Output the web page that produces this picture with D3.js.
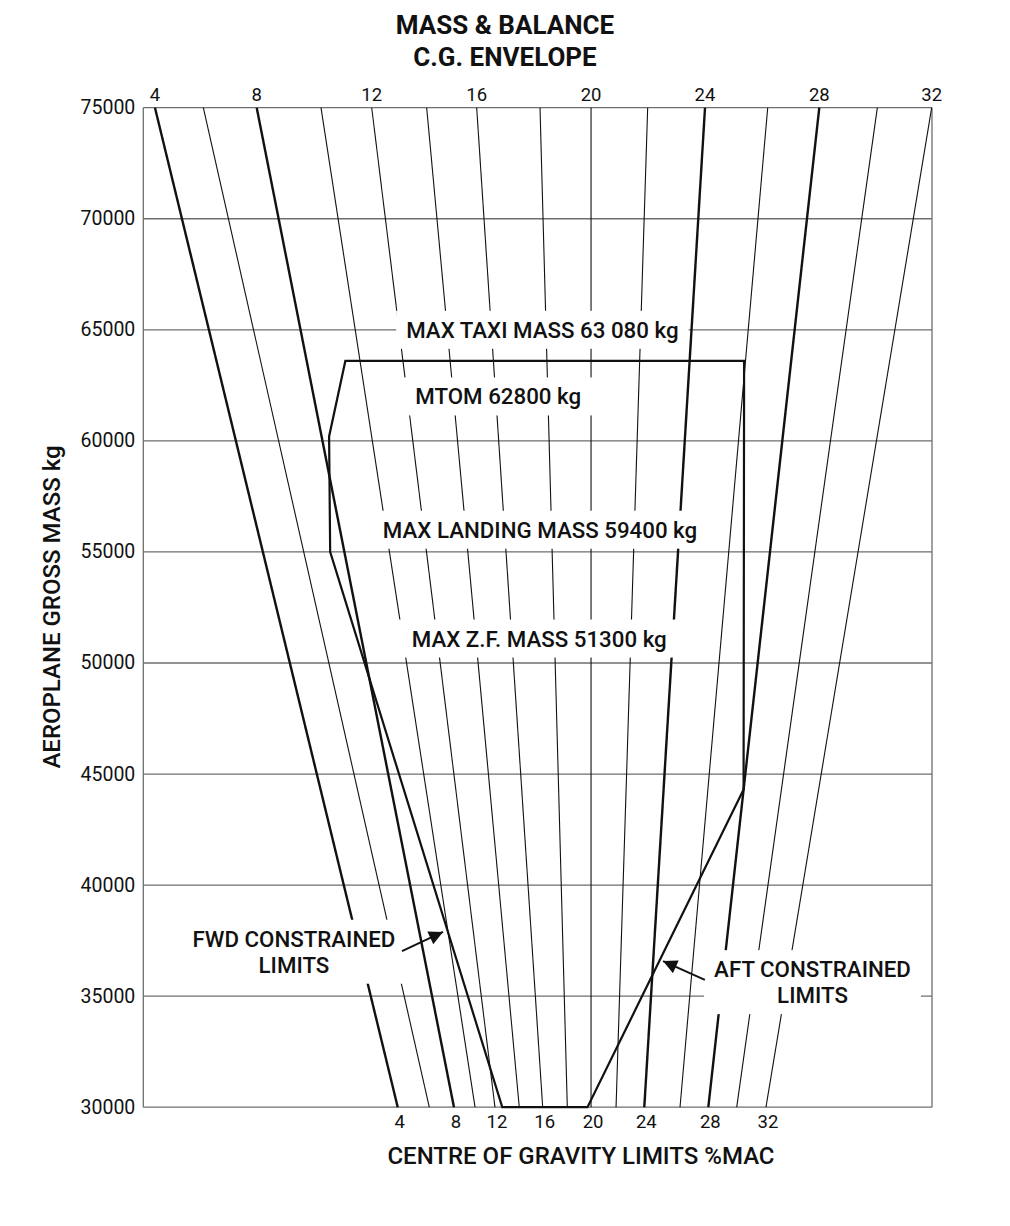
<!DOCTYPE html>
<html><head><meta charset="utf-8">
<script src="https://cdn.jsdelivr.net/npm/d3@7"></script>
<style>
html,body{margin:0;padding:0;background:#fff;}
svg{display:block;font-family:Roboto,"Liberation Sans",Arial,sans-serif;}
</style></head>
<body><svg id="chart" width="1010" height="1226"></svg>
<script>
// ---------------- DATA ----------------
const massTicks = [30000,35000,40000,45000,50000,55000,60000,65000,70000,75000];
const cgValues = [4,6,8,10,12,14,16,18,20,22,24,26,28,30,32];
// horizontal index position (0..100 across plot) of each %MAC line at 75000 kg and at 30000 kg
const lineIndexAt75000 = [1.48,7.61,14.38,22.53,28.96,35.93,42.27,50.30,56.77,63.95,71.22,79.17,85.71,93.07,99.96];
const lineIndexAt30000 = [32.26,36.26,39.39,42.06,44.59,47.67,50.64,53.76,56.77,59.94,63.52,68.05,71.64,75.24,78.95];
const boldCG = [4,8,24,28];
const cgTickLabels = [4,8,12,16,20,24,28,32];
// envelope vertices
const envelopeCG   = [12.6, 7.3, 8.3, 9.45, 25.95, 28.0, 19.7];
const envelopeMass = [30000, 55000, 60200, 63600, 63600, 44300, 30000];
// mass-limit annotations
const limitLabels = ["MAX TAXI MASS 63 080 kg","MTOM 62800 kg","MAX LANDING MASS 59400 kg","MAX Z.F. MASS 51300 kg"];
const limitLabelMass = [65000, 62000, 56000, 51100];
const limitLabelIndex = [50.6, 45.0, 50.3, 50.2];
const limitLabelPad = [10, 18, 10, 16];
// constrained-limit annotations
const constrainedLabels = [["FWD CONSTRAINED","LIMITS"],["AFT CONSTRAINED","LIMITS"]];
const constrainedIndex = [19.1, 84.85];
const constrainedMass = [37000, 35630];
const arrowTailIndex = [32.8, 71.2];
const arrowTailMass = [37030, 35730];
const arrowTipIndex = [38.0, 65.9];
const arrowTipMass = [37890, 36580];

// ---------------- LAYOUT ----------------
const svg = d3.select("#chart");
const L = 143.3, R = 932, T = 107.7, B = 1107.2;
const x = d3.scaleLinear().domain([0,100]).range([L,R]);
const y = d3.scaleLinear().domain([30000,75000]).range([B,T]);
const ink = "#111", gridCol = "#6e6e6e";

svg.append("rect").attr("width",1010).attr("height",1226).attr("fill","#fff");

function lineIndexAt(i, mass){
  const t = (75000 - mass)/45000;
  return lineIndexAt75000[i] + (lineIndexAt30000[i]-lineIndexAt75000[i])*t;
}
function cgToIndex(cg, mass){
  let i = d3.bisectRight(cgValues, cg) - 1;
  i = Math.max(0, Math.min(cgValues.length-2, i));
  const f = (cg - cgValues[i])/(cgValues[i+1]-cgValues[i]);
  const a = lineIndexAt(i, mass), b = lineIndexAt(i+1, mass);
  return a + (b-a)*f;
}

// gridlines
svg.append("g").selectAll("line").data(massTicks).join("line")
  .attr("x1",L).attr("x2",R).attr("y1",d=>y(d)).attr("y2",d=>y(d))
  .attr("stroke",gridCol).attr("stroke-width",1.3);
// side borders
svg.append("line").attr("x1",L).attr("x2",L).attr("y1",T).attr("y2",B).attr("stroke",gridCol).attr("stroke-width",1.3);
svg.append("line").attr("x1",R).attr("x2",R).attr("y1",T).attr("y2",B).attr("stroke",gridCol).attr("stroke-width",1.3);

// CG lines
svg.append("g").selectAll("line").data(cgValues).join("line")
  .attr("x1",(d,i)=>x(lineIndexAt75000[i])).attr("y1",y(75000))
  .attr("x2",(d,i)=>x(lineIndexAt30000[i])).attr("y2",y(30000))
  .attr("stroke",ink)
  .attr("stroke-width",d=>boldCG.includes(d)?2.4:1.1);

// mass-limit labels with white boxes
const lim = svg.append("g");
limitLabels.forEach((txt,i)=>{
  const g = lim.append("g");
  const rect = g.append("rect").attr("fill","#fff");
  const t = g.append("text").text(txt)
    .attr("x",x(limitLabelIndex[i])).attr("y",y(limitLabelMass[i]))
    .attr("text-anchor","middle").attr("dominant-baseline","central")
    .attr("font-size",22.3).attr("font-weight",500).attr("fill",ink);
  const bb = t.node().getBBox();
  const cy = y(limitLabelMass[i]);
  rect.attr("x",bb.x-limitLabelPad[i]).attr("width",bb.width+2*limitLabelPad[i])
      .attr("y",cy-19).attr("height",38);
});

// constrained labels with white boxes
const con = svg.append("g");
constrainedLabels.forEach((lines,i)=>{
  const g = con.append("g");
  const rect = g.append("rect").attr("fill","#fff");
  const cx = x(constrainedIndex[i]), cy = y(constrainedMass[i]);
  const t = g.append("text").attr("text-anchor","middle")
    .attr("font-size",22.3).attr("font-weight",500).attr("fill",ink);
  lines.forEach((ln,j)=>{
    t.append("tspan").attr("x",cx).attr("y",cy + (j-0.5)*26).attr("dominant-baseline","central").text(ln);
  });
  const bb = t.node().getBBox();
  rect.attr("x",bb.x-10).attr("width",bb.width+20).attr("y",bb.y-6).attr("height",bb.height+12);
});

// envelope
const envPts = envelopeCG.map((c,i)=>[x(cgToIndex(c,envelopeMass[i])), y(envelopeMass[i])]);
svg.append("path").attr("d", d3.line()(envPts)+"Z")
  .attr("fill","none").attr("stroke",ink).attr("stroke-width",2.2).attr("stroke-linejoin","miter");

// arrows
const defs = svg.append("defs");
defs.append("marker").attr("id","ah").attr("viewBox","0 0 10 10").attr("refX",10).attr("refY",5)
  .attr("markerWidth",18).attr("markerHeight",14).attr("markerUnits","userSpaceOnUse")
  .attr("orient","auto")
  .append("path").attr("d","M0,0 L10,5 L0,10 Z").attr("fill",ink);
svg.append("g").selectAll("line").data(arrowTailIndex).join("line")
  .attr("x1",(d,i)=>x(d)).attr("y1",(d,i)=>y(arrowTailMass[i]))
  .attr("x2",(d,i)=>x(arrowTipIndex[i])).attr("y2",(d,i)=>y(arrowTipMass[i]))
  .attr("stroke",ink).attr("stroke-width",2).attr("marker-end","url(#ah)");

// y tick labels
svg.append("g").selectAll("text").data(massTicks).join("text")
  .attr("x",L-8).attr("y",d=>y(d)).attr("text-anchor","end").attr("dominant-baseline","central")
  .attr("font-size",19.5).attr("fill",ink).text(d=>d);

// top tick labels
svg.append("g").selectAll("text").data(cgTickLabels).join("text")
  .attr("x",d=>x(lineIndexAt75000[cgValues.indexOf(d)])).attr("y",95)
  .attr("text-anchor","middle").attr("dominant-baseline","central")
  .attr("font-size",18.5).attr("fill",ink).text(d=>d);
// bottom tick labels
svg.append("g").selectAll("text").data(cgTickLabels).join("text")
  .attr("x",d=>x(lineIndexAt30000[cgValues.indexOf(d)])+2).attr("y",1122)
  .attr("text-anchor","middle").attr("dominant-baseline","central")
  .attr("font-size",18.5).attr("fill",ink).text(d=>d);

// titles
svg.append("text").attr("x",505).attr("y",25).attr("text-anchor","middle").attr("dominant-baseline","central")
  .attr("font-size",26).attr("font-weight",700).attr("fill",ink).text("MASS & BALANCE");
svg.append("text").attr("x",505).attr("y",57).attr("text-anchor","middle").attr("dominant-baseline","central")
  .attr("font-size",26).attr("font-weight",700).attr("fill",ink).text("C.G. ENVELOPE");
svg.append("text").attr("x",581).attr("y",1156).attr("text-anchor","middle").attr("dominant-baseline","central")
  .attr("font-size",24).attr("font-weight",500).attr("fill",ink).text("CENTRE OF GRAVITY LIMITS %MAC");
svg.append("text").attr("transform","translate(52,607) rotate(-90)").attr("text-anchor","middle")
  .attr("dominant-baseline","central")
  .attr("font-size",24).attr("font-weight",500).attr("fill",ink).text("AEROPLANE GROSS MASS kg");
</script></body></html>
